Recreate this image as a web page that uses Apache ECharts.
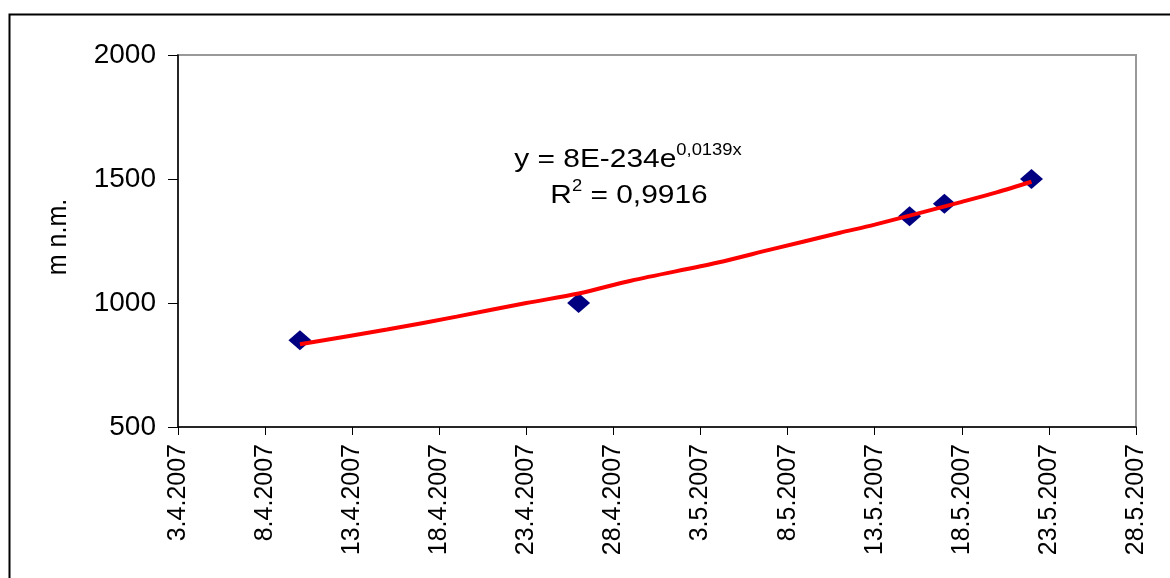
<!DOCTYPE html>
<html>
<head>
<meta charset="utf-8">
<script src="https://cdn.jsdelivr.net/npm/echarts@6/dist/echarts.min.js"></script>
<style>
html,body{margin:0;padding:0;background:#fff;}
#chart{width:1170px;height:578px;}
</style>
</head>
<body>
<div id="chart"></div>
<script>
// Measured points (date, m n.m.)
const pointDates = ['10.4.2007', '26.4.2007', '15.5.2007', '17.5.2007', '22.5.2007'];
const pointValues = [850, 1000, 1350, 1400, 1500];
// Exponential trendline, values
const trendDates = ['10.4.2007', '15.4.2007', '19.4.2007', '23.4.2007', '26.4.2007', '29.4.2007', '4.5.2007', '7.5.2007', '11.5.2007', '13.5.2007', '18.5.2007', '20.5.2007', '22.5.2007'];
const trendValues = [834, 893, 945, 1000, 1038, 1090, 1163, 1215, 1283, 1316, 1408, 1446, 1489];
// Axis settings
const xMinDate = '3.4.2007';
const xMaxDate = '28.5.2007';
const xStepDays = 5;
const yMin = 500, yMax = 2000, yStep = 500;
const yAxisTitle = 'm n.m.';
const equationMain = 'y = 8E-234e';
const equationExp = '0,0139x';
const r2Label = 'R';
const r2Sup = '2';
const r2Value = ' = 0,9916';

// Excel-like serial day numbers
function toSerial(s) {
  const [d, m, y] = s.split('.').map(Number);
  const ms = Date.UTC(y, m - 1, d) - Date.UTC(1899, 11, 30);
  return Math.round(ms / 86400000);
}
function fromSerial(n) {
  const dt = new Date(Date.UTC(1899, 11, 30) + n * 86400000);
  return dt.getUTCDate() + '.' + (dt.getUTCMonth() + 1) + '.' + dt.getUTCFullYear();
}

const font = '"Liberation Sans", Arial, sans-serif';
const chart = echarts.init(document.getElementById('chart'));
const richStyle = {
  a: { fontFamily: font, fontSize: 26, fill: '#000', verticalAlign: 'bottom' },
  s: { fontFamily: font, fontSize: 16, fill: '#000', verticalAlign: 'bottom', padding: [0, 0, 14, 0] }
};
chart.setOption({
  animation: false,
  backgroundColor: '#fff',
  grid: { left: 178, top: 55, right: 34, bottom: 151, show: true, borderColor: '#999', borderWidth: 2, backgroundColor: 'transparent' },
  xAxis: {
    type: 'value',
    min: toSerial(xMinDate),
    max: toSerial(xMaxDate),
    interval: xStepDays,
    splitLine: { show: false },
    axisLine: { show: true, onZero: false, lineStyle: { color: '#000', width: 1.5 } },
    axisTick: { show: true, length: 8, lineStyle: { color: '#000', width: 1 } },
    axisLabel: { rotate: 90, margin: 17, fontFamily: font, fontSize: 25, color: '#000', formatter: v => fromSerial(v), showMinLabel: true, showMaxLabel: true }
  },
  yAxis: {
    type: 'value',
    min: yMin, max: yMax, interval: yStep,
    splitLine: { show: false },
    axisLine: { show: true, lineStyle: { color: '#000', width: 1.5 } },
    axisTick: { show: true, length: 10, lineStyle: { color: '#000', width: 1 } },
    axisLabel: { margin: 22, fontFamily: font, fontSize: 28, color: '#000', formatter: v => String(v) }
  },
  graphic: [
    { type: 'rect', left: 7, top: 12, shape: { width: 1200, height: 600 }, style: { fill: 'none', stroke: '#000', lineWidth: 2 }, silent: true, z: 100 },
    { type: 'text', x: 58, y: 237, rotation: Math.PI / 2, scaleY: 1.1,
      style: { text: yAxisTitle, fontFamily: font, fontSize: 25, fill: '#000', align: 'center', verticalAlign: 'middle' } },
    { type: 'text', x: 628, y: 158, scaleX: 1.15,
      style: { text: '{a|' + equationMain + '}{s|' + equationExp + '}', align: 'center', verticalAlign: 'middle', rich: richStyle } },
    { type: 'text', x: 629, y: 194, scaleX: 1.15,
      style: { text: '{a|' + r2Label + '}{s|' + r2Sup + '}{a|' + r2Value + '}', align: 'center', verticalAlign: 'middle', rich: richStyle } }
  ],
  series: [
    {
      type: 'line',
      data: trendDates.map((d, i) => [toSerial(d), trendValues[i]]),
      showSymbol: false,
      symbol: 'none',
      smooth: 0.3,
      lineStyle: { color: '#ff0000', width: 4 },
      z: 3
    },
    {
      type: 'scatter',
      data: pointDates.map((d, i) => [toSerial(d), pointValues[i]]),
      symbol: 'diamond',
      symbolSize: [23, 20],
      itemStyle: { color: '#000080', opacity: 1 },
      z: 2
    }
  ]
});
</script>
</body>
</html>
